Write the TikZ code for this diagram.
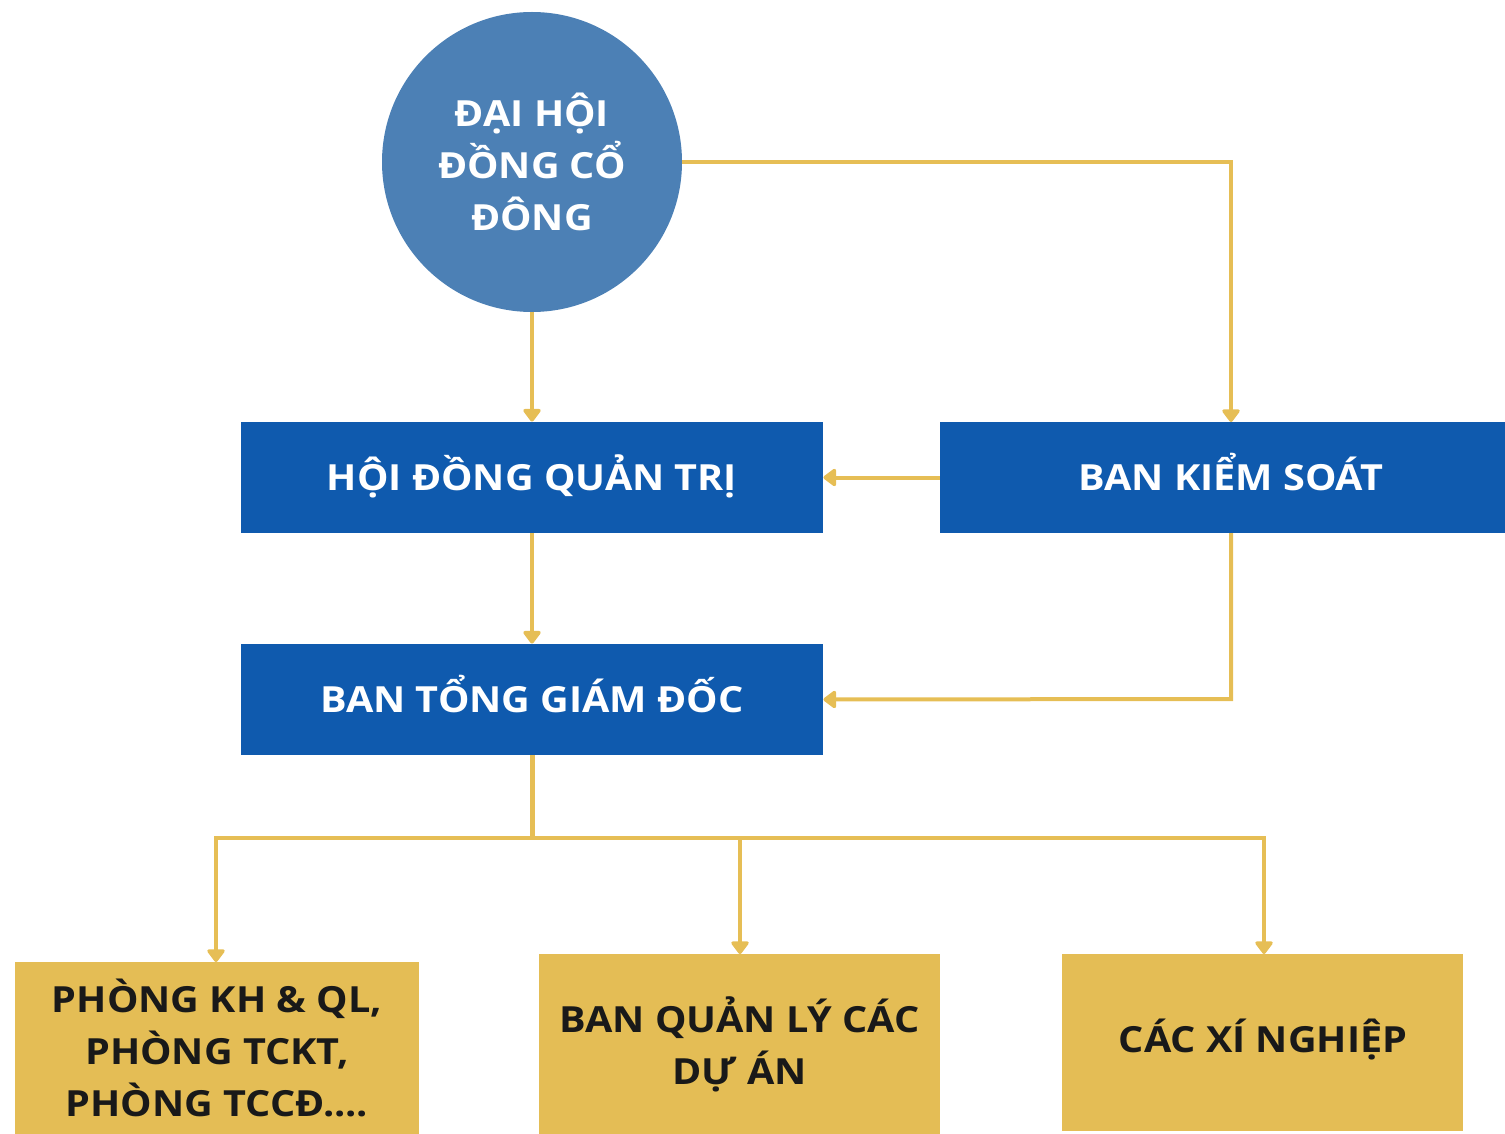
\documentclass[tikz,border=0pt]{standalone}
\usepackage{fontspec}
\setmainfont{Open Sans}[BoldFont={* Bold}, FakeStretch=1.1]
\usetikzlibrary{arrows.meta}
\definecolor{circblue}{HTML}{4C80B5}
\definecolor{boxblue}{HTML}{0F5AAE}
\definecolor{boxgold}{HTML}{E4BD55}
\definecolor{linegold}{HTML}{E6BE55}
\tikzset{
  lblfont/.style={font=\bfseries\fontsize{18}{26}\selectfont},
  oneline/.style={text height=12.9pt, text depth=0pt},
  bluebox/.style={fill=boxblue, draw=none, text=white, lblfont, align=center, inner sep=0pt},
  goldbox/.style={fill=boxgold, draw=none, text=black!90, lblfont, align=center, inner sep=0pt},
  conn/.style={draw=linegold, line width=2pt, -{Triangle[width=10pt,length=7pt,round]}},
  plain/.style={draw=linegold, line width=2pt},
}
\begin{document}
\begin{tikzpicture}[x=0.5pt,y=-0.5pt]
\useasboundingbox (0,0) rectangle (1505,1134);
% nodes
\node[circle, fill=circblue, minimum size=150pt, inner sep=0pt, text=white, lblfont, align=center] (dhdcd) at (532,162) {ĐẠI HỘI\\ĐỒNG CỔ\\ĐÔNG};
\node[bluebox, oneline, minimum width=291pt, minimum height=55.5pt] (hdqt) at (532,477.5) {HỘI ĐỒNG QUẢN TRỊ};
\node[bluebox, oneline, minimum width=282.5pt, minimum height=55.5pt] (bks) at (1222.5,477.5) {};
\node[text=white, lblfont, oneline, inner sep=0pt] (bkslbl) at (1231,477.5) {BAN KIỂM SOÁT};
\node[bluebox, oneline, minimum width=291pt, minimum height=55.5pt] (btgd) at (532,699.5) {BAN TỔNG GIÁM ĐỐC};
\node[goldbox, minimum width=202pt, minimum height=86pt] (phong) at (217,1048) {PHÒNG KH \& QL,\\PHÒNG TCKT,\\PHÒNG TCCĐ....};
\node[goldbox, minimum width=200.5pt, minimum height=90pt] (bql) at (739.5,1044) {BAN QUẢN LÝ CÁC\\DỰ ÁN};
\node[goldbox, oneline, minimum width=200.5pt, minimum height=88.5pt] (xn) at (1262.5,1042.5) {};
\node[text=black!90, lblfont, oneline, inner sep=0pt] (xnlbl) at (1263,1040) {CÁC XÍ NGHIỆP};
\coordinate (branch) at (532,838);
% connectors
\draw[conn] (dhdcd.south) -- (hdqt.north);
\draw[conn] (dhdcd.east) -- (1231,162) -- (1231,422);
\draw[conn] (bks.west) -- (hdqt.east);
\draw[conn] (hdqt.south) -- (btgd.north);
\draw[conn] (1231,533) -- (1231,699) -- (btgd.east);
\draw[plain, line width=2.5pt] (btgd.south) -- (branch);
\draw[conn] (branch) -- (216,838) -- (216,962);
\draw[conn] (branch) -- (740,838) -- (740,954);
\draw[conn] (branch) -- (1264,838) -- (1264,954);
\end{tikzpicture}
\end{document}
